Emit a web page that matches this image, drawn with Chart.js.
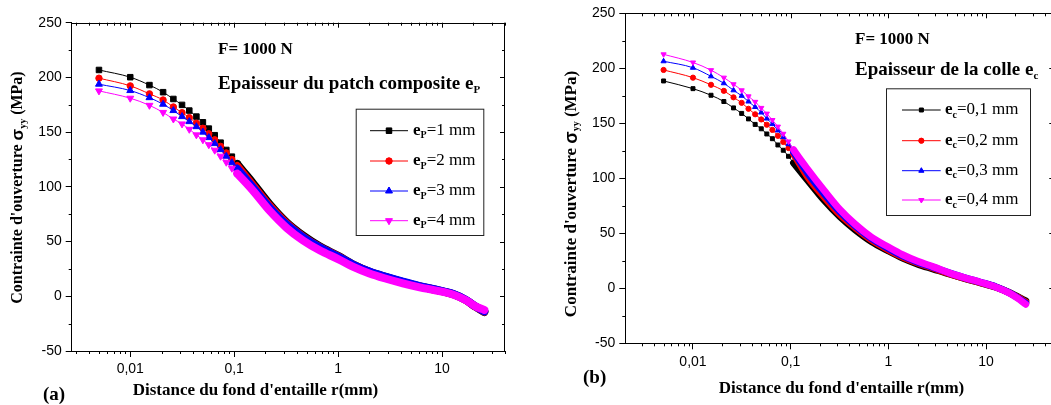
<!DOCTYPE html>
<html>
<head>
<meta charset="utf-8">
<script src="https://cdn.jsdelivr.net/npm/chart.js@4.4.0/dist/chart.umd.min.js"></script>
<style>
html, body { margin: 0; padding: 0; background: #fff; width: 1051px; height: 405px; overflow: hidden; }
canvas { position: absolute; top: 0; }
#ca { left: 0; }
#cb { left: 525px; }
</style>
</head>
<body>
<canvas id="ca" width="525" height="405"></canvas>
<canvas id="cb" width="540" height="405"></canvas>
<script>
// distance r (mm): mesh points where markers are visible, then points along the dense band
const rMarks = [0.005, 0.01, 0.0153, 0.0207, 0.026, 0.0315, 0.037, 0.0433, 0.05, 0.057, 0.065, 0.074, 0.084, 0.095, 0.107];
const rBand = [0.15, 0.22, 0.32, 0.46, 0.67, 1, 1.4, 2, 2.9, 4.2, 6.1, 8.8, 12.7, 17, 21, 25.5];

// (a) patch thickness eP
const aLegend = ['=1 mm', '=2 mm', '=3 mm', '=4 mm'];
const aEp1 = [206.8, 200.2, 193, 186.5, 180.3, 174.9, 169.7, 164.2, 159, 153.2, 147.2, 140.4, 133.7, 127.6, 121,
  104, 84, 67.5, 55.5, 45.5, 37, 29, 22.5, 17.5, 13, 9, 5.8, 2, -3.5, -9.5, -14.5];
const aEp2 = [199.3, 192.3, 185, 179.4, 173, 167.8, 163.3, 158.1, 153.5, 148.5, 143, 137, 131, 125, 119,
  102, 82.5, 66.5, 54.5, 44.8, 36.5, 28.7, 22.4, 17.4, 13, 9, 5.8, 2, -3.5, -9.5, -14];
const aEp3 = [193.8, 188, 181.5, 175.5, 169.7, 164.2, 159.6, 155, 150, 145, 139.5, 134, 128, 122, 116.5,
  100, 81, 65.5, 54, 44.5, 36.3, 28.8, 22.6, 17.7, 13.3, 9.3, 6.1, 2.3, -3.3, -9.3, -13.8];
const aEp4 = [187.7, 181, 174.5, 168, 162, 157.5, 152.6, 147.5, 143, 138.5, 133.5, 128, 122.5, 117, 112,
  97, 78, 62.5, 51, 41.8, 34, 26.8, 20.8, 16, 11.8, 8.2, 5.2, 1.6, -3.6, -9.2, -12.5];

// (b) adhesive thickness ec
const bLegend = ['=0,1 mm', '=0,2 mm', '=0,3 mm', '=0,4 mm'];
const bEc1 = [188.5, 181.5, 175.5, 169.8, 164, 159, 154, 149, 145, 140.3, 136, 130.3, 125.5, 120, 114,
  98, 80, 65, 53, 42.5, 34, 27.5, 22, 17.5, 13, 8.8, 5, 1, -3.5, -7.5, -11.5];
const bEc2 = [198.5, 191.5, 185, 179.5, 173.6, 168.6, 163.2, 158.2, 153.5, 148.7, 144, 138.6, 133, 127.5, 122,
  101, 83, 67, 55, 44, 35, 28.5, 23, 18.2, 13.4, 9, 5.2, 1, -3.7, -8, -12.5];
const bEc3 = [206.4, 200.5, 192.7, 186.4, 180, 175, 169.8, 164.8, 159.8, 154.3, 149.3, 143.5, 137.5, 131, 124,
  104.5, 86, 69.5, 56.5, 45.3, 36.3, 29.5, 23.8, 19, 14, 9.5, 5.5, 1.2, -3.8, -8.5, -13.5];
const bEc4 = [212.7, 205.3, 198.3, 191.5, 185.5, 180, 174.5, 169.5, 164, 158.8, 153, 147, 140.5, 133.5, 126,
  108, 89, 71.5, 58, 46.5, 37.5, 30.5, 24.5, 19.5, 14, 9.5, 5.5, 1, -4, -9, -14.5];

// axes
const xMajor = [0.01, 0.1, 1, 10];
const xMajorText = ['0,01', '0,1', '1', '10'];
const yMin = -50, yMax = 250, yStep = 25, yLabelStep = 50;

const colors = ['#000000', '#ff0000', '#0000ff', '#ff00ff'];
const shapes = ['rect', 'circle', 'triangle', 'triangle'];
const rotations = [0, 0, 0, 180];

const SERIF = "'Liberation Serif', 'Times New Roman', serif";
const SANS = "'Liberation Sans', Arial, sans-serif";

function logTicks(min, max) {
  const out = [];
  for (let e = -4; e <= 2; e++) {
    for (let m = 1; m <= 9; m++) {
      const v = m === 1 ? Math.pow(10, e) : m * Math.pow(10, e);
      if (v > min && v < max) out.push(v);
    }
  }
  return out;
}
function isMajorX(v) { return xMajor.some(m => Math.abs(m - v) < m * 1e-6); }

// draws runs of text with different fonts / vertical offsets
function rich(ctx, x, y, parts, align) {
  let w = 0;
  parts.forEach(p => { ctx.font = p[1]; w += ctx.measureText(p[0]).width; });
  let cx = align === 'center' ? x - w / 2 : x;
  parts.forEach(p => {
    ctx.font = p[1];
    ctx.fillText(p[0], cx, y + (p[2] || 0));
    cx += ctx.measureText(p[0]).width;
  });
}

const deco = {
  id: 'deco',
  afterDraw(chart, args, o) {
    const ctx = chart.ctx, a = chart.chartArea, xs = chart.scales.x, ys = chart.scales.y;
    ctx.save();
    ctx.strokeStyle = '#000';
    ctx.lineWidth = 1;
    ctx.beginPath();
    // top and right frame
    ctx.moveTo(a.left, Math.round(a.top) + 0.5);
    ctx.lineTo(a.right, Math.round(a.top) + 0.5);
    ctx.moveTo(Math.round(a.right) - 0.5, a.top);
    ctx.lineTo(Math.round(a.right) - 0.5, a.bottom);
    // minor + mirrored ticks
    xs.ticks.forEach(t => {
      const px = Math.round(xs.getPixelForValue(t.value)) + 0.5;
      const maj = isMajorX(t.value);
      if (!maj) { ctx.moveTo(px, a.bottom); ctx.lineTo(px, a.bottom + 3); }
      ctx.moveTo(px, a.top); ctx.lineTo(px, a.top + (maj ? 5 : 3));
    });
    ys.ticks.forEach(t => {
      const py = Math.round(ys.getPixelForValue(t.value)) + 0.5;
      const maj = t.value % yLabelStep === 0;
      if (!maj) { ctx.moveTo(a.left, py); ctx.lineTo(a.left - 3, py); }
      ctx.moveTo(a.right, py); ctx.lineTo(a.right - (maj ? 5 : 3), py);
    });
    ctx.stroke();

    ctx.fillStyle = '#000';
    ctx.textBaseline = 'middle';
    // axis titles
    ctx.save();
    ctx.translate(o.yTitle[0], o.yTitle[1]);
    ctx.rotate(-Math.PI / 2);
    rich(ctx, 0, 0, [
      ["Contrainte d'ouverture ", 'bold ' + o.ySize + 'px ' + SERIF],
      ['\u03c3', 'bold ' + (o.ySize + 1) + 'px ' + SANS],
      ['yy', 'bold 10px ' + SERIF, 5],
      [' (MPa)', 'bold ' + o.ySize + 'px ' + SERIF]
    ], 'center');
    ctx.restore();
    rich(ctx, o.xTitle[0], o.xTitle[1], [["Distance du fond d'entaille r(mm)", 'bold 17px ' + SERIF]], 'center');
    rich(ctx, o.tag[0], o.tag[1], [[o.tagText, 'bold 19px ' + SERIF]], 'left');
    rich(ctx, o.force[0], o.force[1], [['F= 1000 N', 'bold 17px ' + SERIF]], 'left');
    rich(ctx, o.head[0], o.head[1], [[o.headText, 'bold 19px ' + SERIF], [o.sub, 'bold 11px ' + SERIF, 6]], 'left');

    // legend
    const L = o.legend;
    ctx.strokeStyle = '#222';
    ctx.lineWidth = 1;
    ctx.strokeRect(L.box[0] + 0.5, L.box[1] + 0.5, L.box[2] - L.box[0], L.box[3] - L.box[1]);
    chart.data.datasets.forEach((ds, k) => {
      const y = L.rows[k];
      ctx.strokeStyle = colors[k];
      ctx.lineWidth = 1;
      ctx.beginPath();
      ctx.moveTo(L.line[0], y); ctx.lineTo(L.line[1], y);
      ctx.stroke();
      ctx.fillStyle = colors[k];
      Chart.helpers.drawPoint(ctx, { pointStyle: shapes[k], rotation: rotations[k], radius: o.radius[k], borderWidth: 1 },
        (L.line[0] + L.line[1]) / 2, y);
      ctx.fill();
      ctx.fillStyle = '#000';
      rich(ctx, L.text, y, [
        ['e', 'bold 17px ' + SERIF],
        [o.sub, 'bold 10px ' + SERIF, 5],
        [o.labels[k], '17px ' + SERIF]
      ], 'left');
    });
    ctx.restore();
  }
};

function buildChart(id, p) {
  const r = rMarks.concat(rBand);
  const nm = rMarks.length;
  return new Chart(document.getElementById(id), {
    type: 'line',
    data: {
      datasets: p.series.map((vals, k) => ({
        data: r.map((x, i) => ({ x: x, y: vals[i] })),
        borderColor: colors[k],
        backgroundColor: colors[k],
        borderWidth: 1,
        borderJoinStyle: 'round',
        borderCapStyle: 'round',
        cubicInterpolationMode: 'monotone',
        pointStyle: shapes[k],
        pointRotation: rotations[k],
        pointRadius: c => c.dataIndex < nm ? p.radius[k] : 0,
        pointBorderWidth: 1,
        segment: { borderWidth: c => c.p0.parsed.x >= p.bandFrom ? p.band : 1 },
        order: 3 - k
      }))
    },
    options: {
      responsive: false,
      animation: false,
      devicePixelRatio: 1,
      layout: { padding: p.pad },
      plugins: { legend: { display: false }, tooltip: { enabled: false }, deco: p },
      scales: {
        x: {
          type: 'logarithmic',
          min: p.xMin, max: p.xMax,
          border: { color: '#000', width: 1 },
          grid: { drawOnChartArea: false, tickLength: 6,
            tickColor: c => (c.tick && isMajorX(c.tick.value)) ? '#000' : 'rgba(0,0,0,0)' },
          ticks: { autoSkip: false, maxRotation: 0, padding: 4, color: '#000',
            font: { family: SANS, size: 14 },
            callback: v => { const i = xMajor.findIndex(m => Math.abs(m - v) < m * 1e-6); return i >= 0 ? xMajorText[i] : ''; } },
          afterBuildTicks: s => { s.ticks = logTicks(p.xMin, p.xMax).map(v => ({ value: v })); },
          afterFit: s => { s.height = p.xH; }
        },
        y: {
          min: yMin, max: yMax,
          border: { color: '#000', width: 1 },
          grid: { drawOnChartArea: false, tickLength: 6,
            tickColor: c => (c.tick && c.tick.value % yLabelStep === 0) ? '#000' : 'rgba(0,0,0,0)' },
          ticks: { stepSize: yStep, padding: 4, color: '#000', font: { family: SANS, size: 14 },
            callback: v => v % yLabelStep === 0 ? String(v) : '' },
          afterFit: s => { s.width = p.yW; }
        }
      }
    },
    plugins: [deco]
  });
}

buildChart('ca', {
  series: [aEp1, aEp2, aEp3, aEp4],
  labels: aLegend, sub: 'P',
  radius: [3.9, 3.2, 4, 4], band: 8, bandFrom: 0.1,
  xMin: 0.002733, xMax: 40.35,
  pad: { left: 0, top: 22.7, right: 20, bottom: 0 }, yW: 71.7, xH: 54,
  yTitle: [18, 187.5], ySize: 16, xTitle: [255.5, 391],
  tag: [43, 395], tagText: '(a)',
  force: [218, 50], head: [218, 84], headText: 'Epaisseur du patch composite e',
  legend: { box: [355.7, 108.7, 483.3, 235], rows: [130.7, 161, 191, 220.7], line: [370, 408], text: 413 }
});

buildChart('cb', {
  series: [bEc1, bEc2, bEc3, bEc4],
  labels: bLegend, sub: 'c',
  radius: [2.8, 2.6, 3, 3], band: 7, bandFrom: 0.1,
  xMin: 0.002028, xMax: 50,
  pad: { left: 0, top: 13.3, right: 10.7, bottom: 0 }, yW: 100.3, xH: 61.7,
  yTitle: [46.7, 194], ySize: 17, xTitle: [316.5, 388.3],
  tag: [58, 378], tagText: '(b)',
  force: [330, 39.3], head: [330, 70], headText: 'Epaisseur de la colle e',
  legend: { box: [361, 88.3, 505, 215], rows: [110, 140.7, 170.7, 200], line: [377, 415.7], text: 420 }
});
</script>
</body>
</html>
